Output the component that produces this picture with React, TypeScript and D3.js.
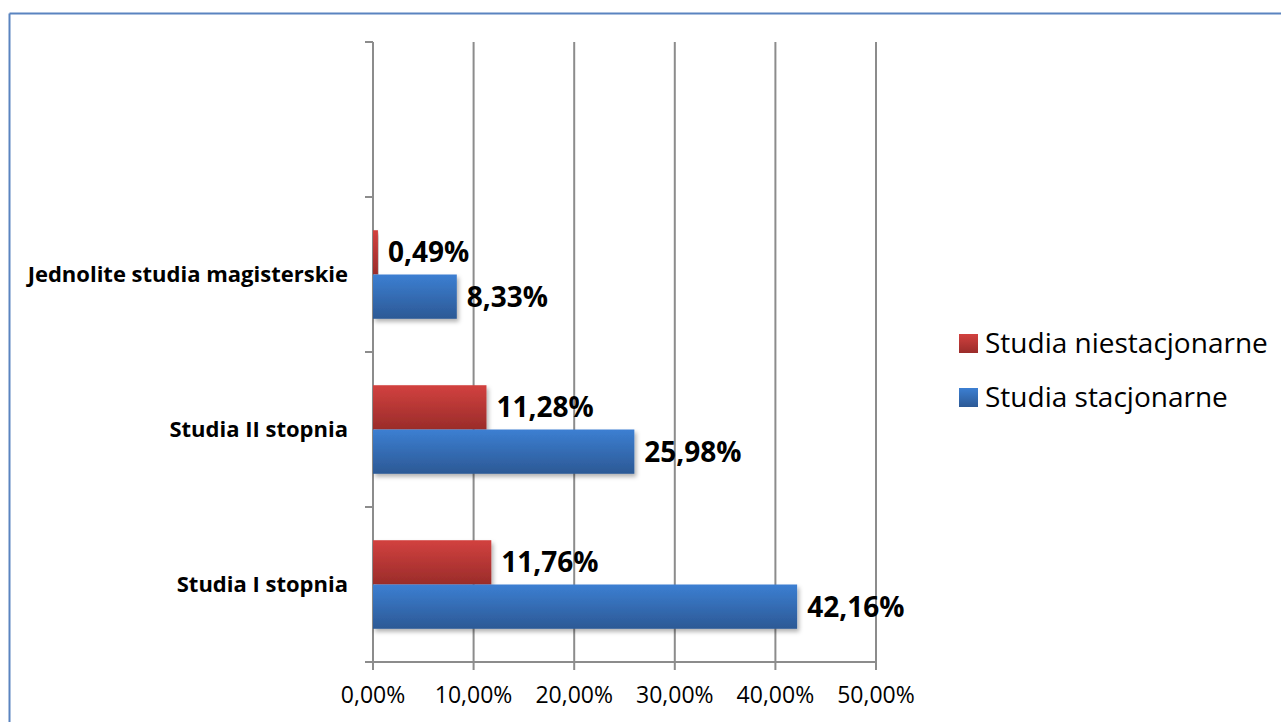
import React from "react";
import * as d3 from "d3";

const categories = ["Studia I stopnia", "Studia II stopnia", "Jednolite studia magisterskie", ""];
const seriesNames = ["Studia niestacjonarne", "Studia stacjonarne"];
const niestacjonarne = [11.76, 11.28, 0.49, null];
const stacjonarne = [42.16, 25.98, 8.33, null];
const xTicks = [0, 10, 20, 30, 40, 50];

const W = 1281, H = 722;
const X0 = 373, X1 = 876;
const Y_TOP = 42, Y_BOT = 662;
const FONT = "'Open Sans', 'DejaVu Sans', sans-serif";

const fmt = (v: number) => v.toFixed(2).replace(".", ",") + "%";

export default function App() {
  const x = d3.scaleLinear().domain([0, 50]).range([X0, X1]);
  // categories from bottom to top
  const y = d3.scaleBand<number>().domain(d3.range(categories.length)).range([Y_BOT, Y_TOP]);
  const band = y.bandwidth();
  const barH = band / 3.5;
  const series = [
    { name: seriesNames[0], values: niestacjonarne, grad: "gRed", offset: -1 },
    { name: seriesNames[1], values: stacjonarne, grad: "gBlue", offset: 0 },
  ];
  return (
    <div style={{ position: "fixed", left: 0, top: 0 }}>
      <svg width={W} height={H} style={{ display: "block", background: "#fff" }}>
        <defs>
          <linearGradient id="gRed" x1="0" y1="0" x2="0" y2="1">
            <stop offset="0" stopColor="#D2413F" />
            <stop offset="1" stopColor="#9A2C2A" />
          </linearGradient>
          <linearGradient id="gBlue" x1="0" y1="0" x2="0" y2="1">
            <stop offset="0" stopColor="#3C7FD2" />
            <stop offset="1" stopColor="#2C5995" />
          </linearGradient>
          <filter id="sh" x="-5%" y="-20%" width="115%" height="160%">
            <feDropShadow dx="2" dy="3" stdDeviation="2" floodColor="#000" floodOpacity="0.3" />
          </filter>
        </defs>
        {/* outer border */}
        <line x1={9.5} y1={13.5} x2={W} y2={13.5} stroke="#5A84C0" strokeWidth={2} />
        <line x1={9.5} y1={13.5} x2={9.5} y2={H} stroke="#5A84C0" strokeWidth={2} />

        {/* gridlines */}
        {xTicks.map((t) => (
          <line key={"g" + t} x1={x(t)} x2={x(t)} y1={Y_TOP} y2={Y_BOT + 8} stroke="#8C8C8C" strokeWidth={2} />
        ))}
        {/* y axis ticks */}
        {d3.range(categories.length + 1).map((i) => {
          const yy = Y_BOT - i * band;
          return <line key={"yt" + i} x1={X0 - 8} x2={X0} y1={yy} y2={yy} stroke="#8C8C8C" strokeWidth={2} />;
        })}
        {/* x axis */}
        <line x1={X0 - 8} x2={X1 + 1} y1={Y_BOT} y2={Y_BOT} stroke="#8C8C8C" strokeWidth={2} />

        {/* bars */}
        {series.map((s) =>
          s.values.map((v, i) => {
            if (v == null) return null;
            const c = (y(i) as number) + band / 2;
            const top = c + s.offset * barH;
            return (
              <g key={s.name + i}>
                <rect x={X0} y={top} width={x(v) - X0} height={barH} fill={`url(#${s.grad})`} filter="url(#sh)" />
                <text x={x(v) + 10} y={top + barH / 2} dy="0.36em" fontFamily={FONT} fontWeight="bold" fontSize={28} fill="#000">
                  {fmt(v)}
                </text>
              </g>
            );
          })
        )}

        {/* category labels */}
        {categories.map((c, i) => (
          <text key={"c" + i} x={348} y={(y(i) as number) + band / 2} dy="0.36em" textAnchor="end" fontFamily={FONT} fontWeight="bold" fontSize={22} fill="#000">
            {c}
          </text>
        ))}

        {/* x tick labels */}
        {xTicks.map((t) => (
          <text key={"xl" + t} x={x(t)} y={695} dy="0.36em" textAnchor="middle" fontFamily={FONT} fontSize={23} fill="#000">
            {fmt(t)}
          </text>
        ))}

        {/* legend */}
        {series.map((s, i) => (
          <g key={"lg" + i} transform={`translate(959, ${334 + i * 54})`}>
            <rect x={0} y={0} width={19} height={19} fill={`url(#${s.grad})`} />
            <text x={26} y={19} fontFamily={FONT} fontSize={28} fill="#000">
              {s.name}
            </text>
          </g>
        ))}
      </svg>
    </div>
  );
}
